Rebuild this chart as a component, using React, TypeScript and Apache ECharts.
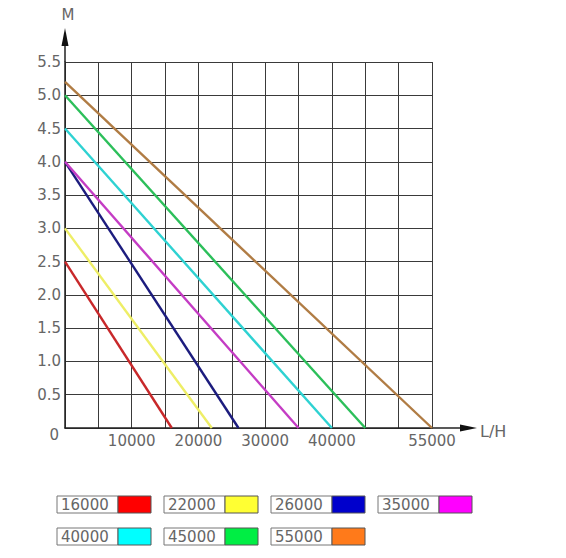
import React, { useEffect, useRef } from 'react';
import * as echarts from 'echarts';

// flow at zero head (L/H) and head at zero flow (M) for every pump
const pumpFlows = [16000, 22000, 26000, 35000, 40000, 45000, 55000];
const pumpHeads = [2.5, 3.0, 4.0, 4.0, 4.5, 5.0, 5.2];
const pumpNames = ['16000', '22000', '26000', '35000', '40000', '45000', '55000'];
const lineColors = ['#c8282a', '#eeee66', '#1c1c7e', '#c43cc4', '#2ed2d2', '#2cbf5a', '#b07c44'];
const legendColors = ['#ff0000', '#ffff33', '#0000cc', '#ff00ff', '#00ffff', '#00ee44', '#ff7a1a'];
const xTickLabels = [10000, 20000, 30000, 40000, 55000];

const FONT = '"DejaVu Sans", sans-serif';
const TXT = '#666';

const App = () => {
  const chartRef = useRef(null);

  useEffect(() => {
    if (!chartRef.current) return;
    const chart = echarts.init(chartRef.current, null, { renderer: 'svg' });

    const series = pumpFlows.map((flow, i) => ({
      name: pumpNames[i],
      type: 'line',
      symbol: 'none',
      data: [
        [0, pumpHeads[i]],
        [flow, 0],
      ],
      lineStyle: { color: lineColors[i], width: 2.4 },
      z: 3,
    }));

    // legend boxes: text part + colour swatch, 4 per row
    const legendItems = [];
    pumpNames.forEach((name, i) => {
      const col = i % 4;
      const row = Math.floor(i / 4);
      const x = 57 + col * 107;
      const y = 496 + row * 32;
      legendItems.push({
        type: 'rect',
        shape: { x, y, width: 61, height: 17 },
        style: { fill: '#fff', stroke: '#777', lineWidth: 1 },
      });
      legendItems.push({
        type: 'rect',
        shape: { x: x + 61, y, width: 33, height: 17 },
        style: { fill: legendColors[i], stroke: '#555', lineWidth: 1 },
      });
      legendItems.push({
        type: 'text',
        x: x + 4,
        y: y + 9,
        style: {
          text: name,
          fill: TXT,
          font: '15px ' + FONT,
          verticalAlign: 'middle',
        },
      });
    });

    const option = {
      animation: false,
      grid: { left: 65, top: 62, width: 367, height: 366, containLabel: false },
      xAxis: {
        type: 'value',
        min: 0,
        max: 55000,
        interval: 5000,
        axisLine: { lineStyle: { color: '#222', width: 1.5 } },
        axisTick: { show: false },
        axisLabel: {
          margin: 5,
          color: TXT,
          fontSize: 15,
          fontFamily: FONT,
          formatter: (v) => (xTickLabels.includes(v) ? String(v) : ''),
        },
        splitLine: { show: true, lineStyle: { color: '#3a3a3a', width: 1 } },
      },
      yAxis: {
        type: 'value',
        min: 0,
        max: 5.5,
        interval: 0.5,
        axisLine: { show: true, lineStyle: { color: '#222', width: 1.5 } },
        axisTick: { show: false },
        axisLabel: {
          margin: 4,
          color: TXT,
          fontSize: 15,
          fontFamily: FONT,
          formatter: (v) => (v === 0 ? '{z|0}' : v.toFixed(1)),
          rich: {
            z: { color: TXT, fontSize: 15, fontFamily: FONT, padding: [14, 2, 0, 0] },
          },
        },
        splitLine: { show: true, lineStyle: { color: '#3a3a3a', width: 1 } },
      },
      series,
      graphic: [
        // axis extensions and arrows
        { type: 'line', shape: { x1: 432, y1: 428, x2: 462, y2: 428 }, style: { stroke: '#222', lineWidth: 1.5 } },
        { type: 'polygon', shape: { points: [[460, 424.5], [477, 428], [460, 431.5]] }, style: { fill: '#111' } },
        { type: 'line', shape: { x1: 65, y1: 62, x2: 65, y2: 45 }, style: { stroke: '#222', lineWidth: 1.5 } },
        { type: 'polygon', shape: { points: [[61.5, 46], [65, 28], [68.5, 46]] }, style: { fill: '#111' } },
        {
          type: 'text',
          x: 68,
          y: 15,
          style: { text: 'M', fill: TXT, font: '15px ' + FONT, align: 'center', verticalAlign: 'middle' },
        },
        {
          type: 'text',
          x: 480,
          y: 431,
          style: { text: 'L/H', fill: TXT, font: '16px ' + FONT, verticalAlign: 'middle' },
        },
        ...legendItems,
      ],
    };

    chart.setOption(option);

    return () => {
      chart.dispose();
    };
  }, []);

  return (
    <div
      ref={chartRef}
      style={{ position: 'absolute', left: 0, top: 0, width: '566px', height: '558px', background: '#fff' }}
    />
  );
};

export default App;
